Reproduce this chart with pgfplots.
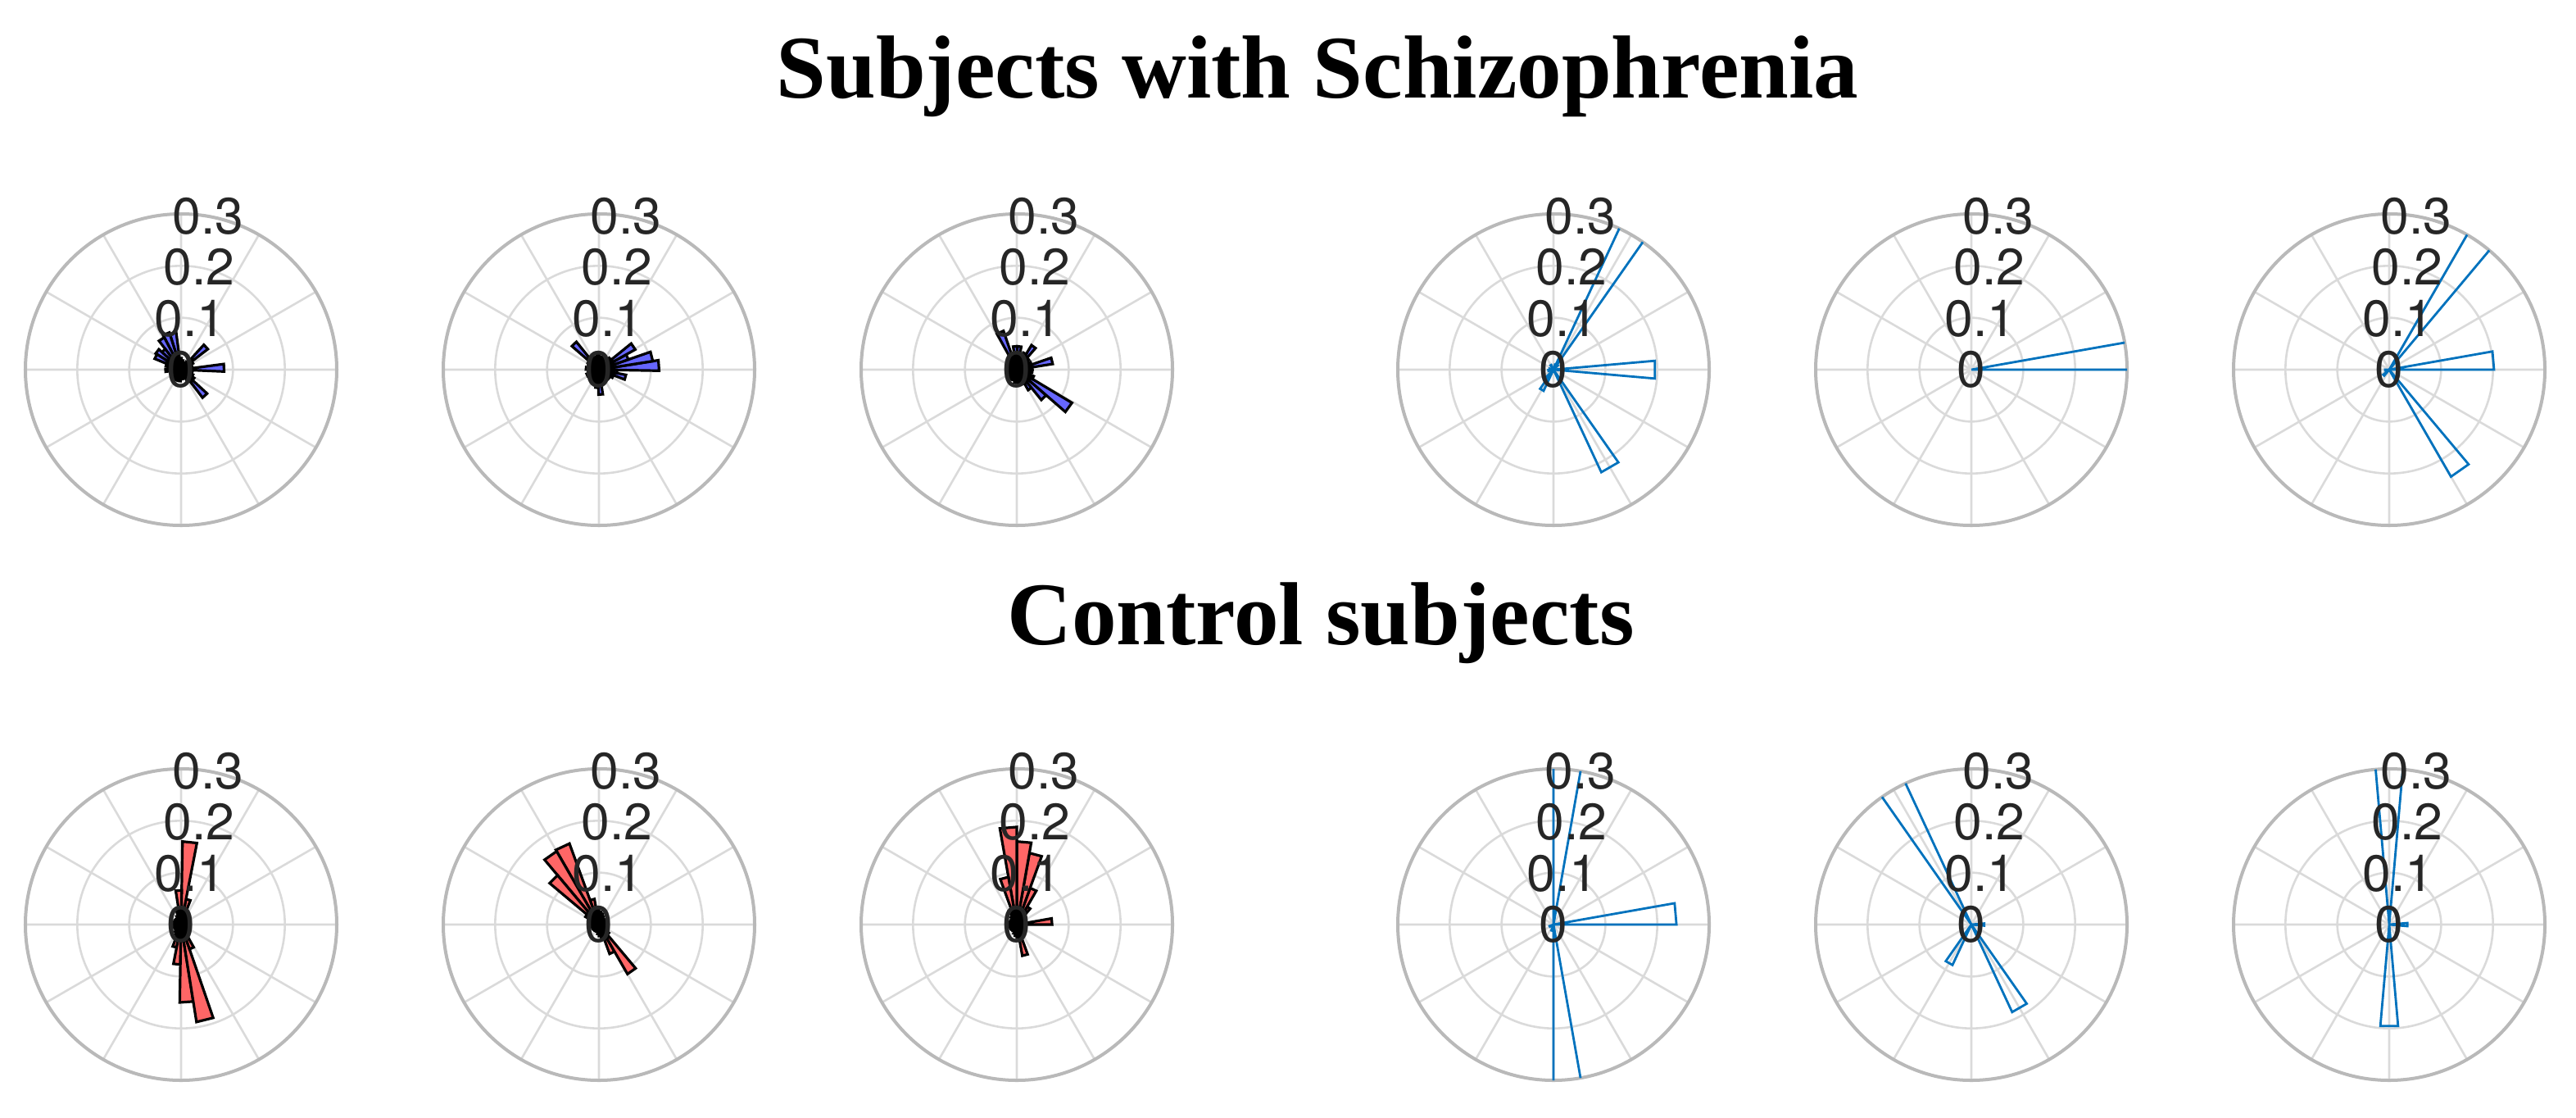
\documentclass[border=0pt]{standalone}
\usepackage{fontspec}
\setmainfont{Liberation Serif}
\newfontfamily\helv{TeX Gyre Heros}
\usepackage{pgfplots}
\pgfplotsset{compat=1.18}
\usepgfplotslibrary{polar}

\definecolor{gridgray}{RGB}{218,218,218}
\definecolor{axgray}{RGB}{185,185,185}
\definecolor{szfill}{RGB}{102,102,255}
\definecolor{ctfill}{RGB}{255,102,102}
\definecolor{mblue}{RGB}{0,114,189}
\definecolor{lbl}{RGB}{38,38,38}

\pgfplotsset{
  rose/.style={
    width=95pt, height=95pt, scale only axis, anchor=center,
    xmin=0, xmax=360, ymin=0, ymax=0.3,
    xtick={0,30,...,330}, ytick={0.1,0.2,0.3},
    xticklabels={}, yticklabels={},
    major tick length=0pt,
    grid=major,
    major grid style={gridgray, line width=0.65pt},
    separate axis lines,
    x axis line style={axgray, line width=1pt},
    y axis line style={draw=none},
    clip mode=individual,
  },
  szbar/.style={fill=szfill, draw=black, line width=0.8pt},
  ctbar/.style={fill=ctfill, draw=black, line width=0.8pt},
  stbar/.style={draw=mblue, line width=0.7pt},
}

% #1 style, #2 bin width (deg), #3 list lower edge/value
\newcommand\rose[3]{%
  \foreach \lo/\val in {#3}{%
    \pgfmathsetmacro\hi{\lo+#2}%
    \edef\temp{\noexpand\addplot[#1] coordinates {(\lo,0) (\lo,\val) (\hi,\val) (\hi,0)};}%
    \temp}}

\newcommand\rlabels{%
  \node[lbl, font=\helv\fontsize{15.6}{17}\selectfont] at (axis cs:80,0.3) {0.3};
  \node[lbl, font=\helv\fontsize{15.6}{17}\selectfont] at (axis cs:80,0.2) {0.2};
  \node[lbl, font=\helv\fontsize{15.6}{17}\selectfont] at (axis cs:80,0.1) {0.1};
  \node[lbl, font=\helv\fontsize{15.6}{17}\selectfont] at (axis cs:0,0) {0};}

\begin{document}
\begin{tikzpicture}
\path (0,0) rectangle (786pt,340.75pt);

\node[anchor=base] at (402pt,310.75pt) {\fontsize{27.3}{32}\selectfont\bfseries Subjects with Schizophrenia};
\node[anchor=base] at (403pt,144.25pt) {\fontsize{27.3}{32}\selectfont\bfseries Control subjects};

% ---- row 1: subjects with schizophrenia ----
\begin{polaraxis}[rose, at={(55.25pt,228pt)}]
\rose{szbar}{10}{-2.5/0.083, 7.5/0.018, 17.5/0.022, 27.5/0.026, 37.5/0.065, 47.5/0.018,
  57.5/0.014, 67.5/0.014, 77.5/0.018, 87.5/0.022, 97.5/0.072, 107.5/0.075, 117.5/0.07,
  127.5/0.05, 137.5/0.058, 147.5/0.055, 157.5/0.03, 167.5/0.025, 177.5/0.03, 187.5/0.022,
  197.5/0.018, 207.5/0.014, 217.5/0.018, 227.5/0.022, 237.5/0.022, 247.5/0.022, 257.5/0.022,
  267.5/0.018, 277.5/0.014, 287.5/0.018, 297.5/0.022, 307.5/0.068, 317.5/0.03, 327.5/0.025,
  337.5/0.022, 347.5/0.018}
\rlabels
\end{polaraxis}

\begin{polaraxis}[rose, at={(182.75pt,228pt)}]
\rose{szbar}{10}{-1/0.116, 9/0.105, 19/0.06, 29/0.08, 39/0.03, 49/0.025, 59/0.025,
  69/0.025, 79/0.025, 89/0.03, 99/0.025, 109/0.025, 119/0.03, 129/0.069, 139/0.025,
  149/0.021, 159/0.021, 169/0.025, 179/0.021, 189/0.021, 199/0.025, 209/0.021, 219/0.021,
  229/0.025, 239/0.025, 249/0.025, 259/0.035, 269/0.048, 279/0.025, 289/0.025,
  299/0.025, 309/0.025, 319/0.025, 329/0.03, 339/0.053, 349/0.035}
\rlabels
\end{polaraxis}

\begin{polaraxis}[rose, at={(310.25pt,228pt)}]
\rose{szbar}{10}{-1/0.03, 9/0.07, 19/0.03, 29/0.025, 39/0.03, 49/0.055, 59/0.035,
  69/0.025, 79/0.045, 89/0.045, 99/0.025, 109/0.079, 119/0.021, 129/0.021, 139/0.018,
  149/0.018, 159/0.021, 169/0.021, 179/0.018, 189/0.018, 199/0.021, 209/0.018, 219/0.021,
  229/0.021, 239/0.021, 249/0.021, 259/0.025, 269/0.025, 279/0.025, 289/0.03, 299/0.045,
  309/0.075, 319/0.124, 329/0.035, 339/0.025, 349/0.03}
\rlabels
\end{polaraxis}

\begin{polaraxis}[rose, at={(474pt,228pt)}]
\rose{stbar}{10}{55/0.45, -5/0.196, 295/0.218, 235/0.045, 225/0.02, 45/0.012,
  65/0.01, 115/0.01, 185/0.01, 165/0.008}
\rlabels
\end{polaraxis}

\begin{polaraxis}[rose, at={(601.5pt,228pt)}]
\rose{stbar}{10}{0/0.9}
\rlabels
\end{polaraxis}

\begin{polaraxis}[rose, at={(729pt,228pt)}]
\rose{stbar}{10}{50/0.45, 0/0.202, 300/0.238, 220/0.015, 180/0.008}
\rlabels
\end{polaraxis}

% ---- row 2: control subjects ----
\begin{polaraxis}[rose, at={(55.25pt,58.75pt)}]
\rose{ctbar}{10}{-1/0.014, 9/0.014, 19/0.014, 29/0.014, 39/0.014, 49/0.018, 59/0.022,
  69/0.05, 79/0.16, 89/0.066, 99/0.03, 109/0.018, 119/0.014, 129/0.014, 139/0.014,
  149/0.014, 159/0.014, 169/0.014, 179/0.014, 189/0.014, 199/0.014, 209/0.014, 219/0.014,
  229/0.018, 239/0.022, 249/0.045, 259/0.077, 269/0.15, 279/0.19, 289/0.05, 299/0.022,
  309/0.018, 319/0.014, 329/0.014, 339/0.014, 349/0.014}
\rlabels
\end{polaraxis}

\begin{polaraxis}[rose, at={(182.75pt,58.75pt)}]
\rose{ctbar}{10}{0/0.014, 10/0.014, 20/0.014, 30/0.014, 40/0.014, 50/0.014, 60/0.018,
  70/0.022, 80/0.025, 90/0.03, 100/0.05, 110/0.166, 120/0.163, 130/0.124, 140/0.03,
  150/0.022, 160/0.018, 170/0.014, 180/0.014, 190/0.014, 200/0.014, 210/0.014, 220/0.014,
  230/0.014, 240/0.014, 250/0.014, 260/0.018, 270/0.022, 280/0.025, 290/0.06, 300/0.11,
  310/0.025, 320/0.018, 330/0.014, 340/0.014, 350/0.014}
\rlabels
\end{polaraxis}

\begin{polaraxis}[rose, at={(310.25pt,58.75pt)}]
\rose{ctbar}{10}{0/0.068, 10/0.014, 20/0.014, 30/0.018, 40/0.022, 50/0.04, 60/0.075,
  70/0.14, 80/0.16, 90/0.188, 100/0.093, 110/0.03, 120/0.018, 130/0.014, 140/0.014,
  150/0.014, 160/0.014, 170/0.014, 180/0.014, 190/0.014, 200/0.014, 210/0.014, 220/0.014,
  230/0.014, 240/0.014, 250/0.018, 260/0.022, 270/0.025, 280/0.061, 290/0.022, 300/0.018,
  310/0.014, 320/0.014, 330/0.014, 340/0.014, 350/0.018}
\rlabels
\end{polaraxis}

\begin{polaraxis}[rose, at={(474pt,58.75pt)}]
\rose{stbar}{10}{80/0.45, 270/0.45, 0/0.237, 250/0.012, 200/0.008}
\rlabels
\end{polaraxis}

\begin{polaraxis}[rose, at={(601.5pt,58.75pt)}]
\rose{stbar}{10}{115/0.5, 295/0.186, 235/0.086, -5/0.025}
\rlabels
\end{polaraxis}

\begin{polaraxis}[rose, at={(729pt,58.75pt)}]
\rose{stbar}{10}{85/0.45, 265/0.196, -5/0.035}
\rlabels
\end{polaraxis}
\end{tikzpicture}
\end{document}
